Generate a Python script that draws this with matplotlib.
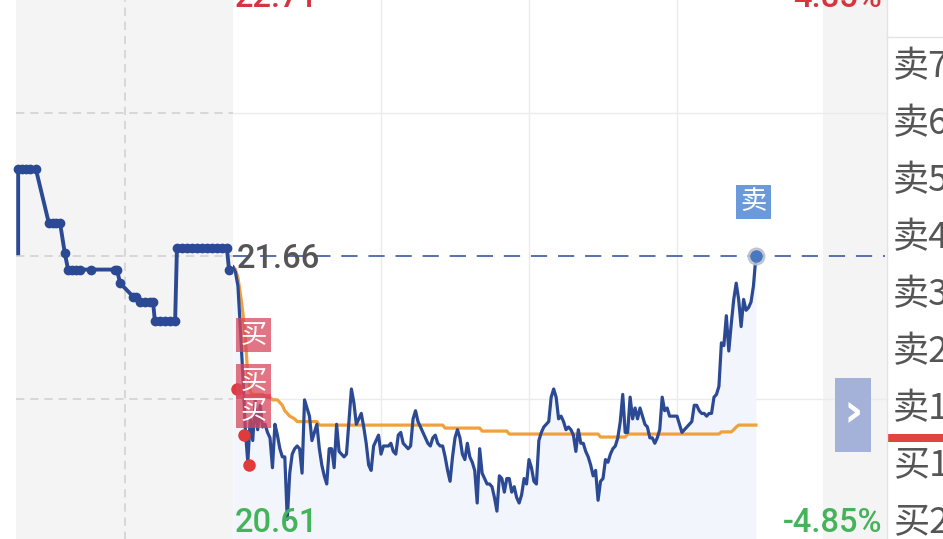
import numpy as np
import matplotlib
matplotlib.use('Agg')
import matplotlib.pyplot as plt
from matplotlib.patches import Rectangle
from matplotlib.lines import Line2D

plt.rcParams['font.family'] = ['Roboto', 'Noto Sans CJK SC', 'DejaVu Sans']

# ---------------- data ----------------
prev_close = 21.66
limit_up = 22.71
limit_down = 20.61
pct_up_label = "4.85%"
pct_down_label = "-4.85%"

# pre-market auction (seconds into the auction window)
pre_seconds = [6, 6, 17, 28, 39, 55, 91, 102, 111, 122, 135, 144, 155, 166, 177,
               207, 274, 279, 288, 324, 332, 343, 357, 370, 379, 384, 398, 412,
               426, 440, 445, 459, 473, 487, 500, 514, 528, 542, 556, 570, 583, 589]
pre_prices = [21.67, 21.98, 21.98, 21.98, 21.98, 21.98, 21.78, 21.78, 21.78, 21.78,
              21.67, 21.61, 21.61, 21.61, 21.61, 21.61, 21.61, 21.61, 21.56, 21.51,
              21.51, 21.49, 21.49, 21.49, 21.49, 21.42, 21.42, 21.42, 21.42, 21.42,
              21.69, 21.69, 21.69, 21.69, 21.69, 21.69, 21.69, 21.69, 21.69, 21.69,
              21.69, 21.61]

# intraday price, one value per minute from the open
prices = [
    21.62, 21.60, 21.55, 21.39, 21.22, 21.02, 20.90, 21.06, 20.98, 21.13,
    21.02, 21.11, 21.03, 21.04, 21.01, 20.99, 20.88, 21.04, 21.00, 20.95,
    20.92, 20.92, 20.69, 20.86, 20.93, 20.95, 20.96, 20.95, 20.86, 21.13,
    21.10, 21.07, 20.98, 21.01, 21.04, 20.95, 20.89, 20.85, 20.82, 20.95,
    20.95, 20.88, 21.04, 20.94, 20.93, 20.92, 20.93, 21.05, 21.17, 21.12,
    21.04, 21.06, 21.08, 21.03, 20.97, 20.89, 20.87, 20.96, 20.98, 21.00,
    20.93, 20.96, 20.96, 20.96, 20.97, 20.94, 20.93, 21.00, 21.01, 20.97,
    20.96, 20.95, 20.96, 21.06, 21.09, 21.05, 21.03, 21.01, 20.99, 20.97,
    20.96, 20.99, 21.00, 20.97, 20.96, 20.96, 20.92, 20.87, 20.83, 20.92,
    20.99, 21.02, 20.99, 20.93, 20.91, 20.97, 20.92, 20.90, 20.87, 20.75,
    20.95, 20.86, 20.84, 20.82, 20.82, 20.81, 20.77, 20.72, 20.85, 20.84,
    20.79, 20.84, 20.84, 20.79, 20.81, 20.77, 20.75, 20.78, 20.84, 20.82,
    20.91, 20.88, 20.83, 20.82, 20.98, 21.01, 21.03, 21.04, 21.05, 21.14,
    21.17, 21.14, 21.06, 21.07, 21.05, 21.02, 21.03, 21.02, 21.00, 20.94,
    21.02, 20.97, 20.97, 20.94, 20.92, 20.89, 20.85, 20.87, 20.76, 20.83,
    20.84, 20.91, 20.90, 20.93, 20.95, 20.96, 20.99, 21.05, 21.15, 21.01,
    21.01, 21.14, 21.06, 21.10, 21.06, 21.10, 21.07, 21.04, 21.03, 20.99,
    20.99, 20.97, 20.99, 21.02, 21.14, 21.09, 21.10, 21.07, 21.07, 21.07,
    21.07, 21.04, 21.01, 21.02, 21.03, 21.04, 21.05, 21.11, 21.11, 21.09,
    21.08, 21.08, 21.07, 21.08, 21.08, 21.14, 21.15, 21.18, 21.34, 21.33,
    21.44, 21.31, 21.41, 21.50, 21.56, 21.50, 21.40, 21.50, 21.46, 21.47,
    21.49, 21.55, 21.66,
]
minutes = np.arange(len(prices))

# average-price line (minute, price)
avg_minutes = [0, 1, 2, 3, 4, 5, 6, 7, 8, 12, 13, 15, 16, 18, 19, 20, 21, 22, 23, 25,
               26, 34, 35, 85, 86, 100, 101, 111, 112, 148, 149, 159, 160, 197, 198,
               202, 203, 204, 205, 212]
avg_prices = [21.62, 21.61, 21.58, 21.52, 21.45, 21.36, 21.22, 21.16, 21.15, 21.15,
              21.14, 21.14, 21.13, 21.13, 21.12, 21.11, 21.09, 21.08, 21.07, 21.06,
              21.05, 21.05, 21.037, 21.037, 21.026, 21.026, 21.015, 21.015, 21.004,
              21.004, 20.993, 20.993, 21.004, 21.004, 21.012, 21.012, 21.02, 21.03,
              21.037, 21.037]

buy_minutes = [1.6, 4.5, 6.5]
buy_prices = [21.17, 21.00, 20.89]
buy_label_minute = 8.3
sell_minute = 212
sell_price = 21.66
label_offset = 0.199

book_labels = ["卖7", "卖6", "卖5", "卖4", "卖3", "卖2", "卖1", "买1", "买2"]

# ---------------- styling ----------------
W, H = 943, 539
BLUE = '#2c4a94'
ORANGE = '#f0a03c'
RED = '#d8343f'
GREEN = '#45b35a'
GRAY_BG = '#f4f4f4'

def fx(x):
    return x / W

def fy(y):
    return 1 - y / H

fig = plt.figure(figsize=(W / 100, H / 100), dpi=100)
fig.patch.set_facecolor('white')

y_top_px, y_bot_px = -29, 541
ax_bottom = fy(y_bot_px)
ax_h = (y_bot_px - y_top_px) / H
quarter = (limit_up - prev_close) / 2
grid_levels = [prev_close + quarter, prev_close, prev_close - quarter]

# right gray strip
fig.add_artist(Rectangle((fx(823), 0), fx(887) - fx(823), 1, transform=fig.transFigure,
                         facecolor=GRAY_BG, edgecolor='none', zorder=-2))

# ---------- pre-market panel ----------
axp = fig.add_axes([fx(16), ax_bottom, fx(233) - fx(16), ax_h])
axp.set_facecolor(GRAY_BG)
axp.set_xlim(0, 600)
axp.set_ylim(limit_down, limit_up)
for s in axp.spines.values():
    s.set_visible(False)
axp.set_xticks([]); axp.set_yticks([])
for lv in grid_levels:
    axp.axhline(lv, color='#d2d2d2', lw=1.2, dashes=(5, 3.5), zorder=0)
axp.axvline(300, color='#d2d2d2', lw=1.2, dashes=(5, 3.5), zorder=0)
axp.plot(pre_seconds, pre_prices, color=BLUE, lw=2.8, marker='o', ms=6,
         markevery=list(range(1, len(pre_seconds))), zorder=3, clip_on=False,
         solid_joinstyle='round')

# ---------- main panel ----------
ax = fig.add_axes([fx(233), ax_bottom, fx(825) - fx(233), ax_h])
ax.set_facecolor('none')
ax.set_xlim(0, 240)
ax.set_ylim(limit_down, limit_up)
ax.axis('off')
ext = (887 - 233) / 592
for lv in [grid_levels[0], grid_levels[2]]:
    ax.axhline(lv, xmin=0, xmax=ext, color='#ebebeb', lw=1, clip_on=False, zorder=0)
for t in [60, 120, 180]:
    ax.axvline(t, color='#ebebeb', lw=1, zorder=0)

ax.fill_between(minutes, prices, limit_down, color='#f3f5fc', lw=0, zorder=1)
ax.axhline(sell_price, xmin=0, xmax=(885 - 233) / 592, color='#4866a8', lw=1.3,
           dashes=(9, 6), clip_on=False, zorder=2)
ax.plot(avg_minutes, avg_prices, color=ORANGE, lw=2.3, zorder=3)
ax.plot(minutes, prices, color=BLUE, lw=2.3, zorder=4, solid_joinstyle='round')

# buy markers
for bt, bp in zip(buy_minutes, buy_prices):
    ax.plot(bt, bp, 'o', color='#e03a3a', ms=8, zorder=6, clip_on=False)
    ax.text(buy_label_minute, bp + label_offset, "买", color='white', fontsize=19,
            ha='center', va='center', family=['Noto Sans CJK SC'], zorder=7,
            bbox=dict(boxstyle='square,pad=0.15', fc='#d8475c', ec='none', alpha=0.75))

# sell marker
ax.plot(sell_minute, sell_price, 'o', color='#b9c0cc', ms=12, alpha=0.85, zorder=6)
ax.plot(sell_minute, sell_price, 'o', color='#4a78c0', ms=8, zorder=7)
ax.text(sell_minute - 1, sell_price + label_offset, "卖", color='white', fontsize=19,
        ha='center', va='center', family=['Noto Sans CJK SC'], zorder=7,
        bbox=dict(boxstyle='square,pad=0.15', fc='#6a9ad9', ec='none'))

# ---------- axis value labels ----------
num_font = dict(fontsize=23.5, family=['Roboto', 'DejaVu Sans'], fontweight='medium')
fig.text(fx(235), fy(7), f"{limit_up:.2f}", color=RED, ha='left', va='baseline', **num_font)
fig.text(fx(882), fy(7), pct_up_label, color=RED, ha='right', va='baseline', **num_font)
fig.text(fx(235), fy(532), f"{limit_down:.2f}", color=GREEN, ha='left', va='baseline', **num_font)
fig.text(fx(882), fy(532), pct_down_label, color=GREEN, ha='right', va='baseline', **num_font)
fig.text(fx(237), fy(268), f"{prev_close:.2f}", color='#555555', ha='left', va='baseline',
         zorder=5, **num_font)

# ---------- collapse button ----------
fig.add_artist(Rectangle((fx(835), fy(452)), fx(871) - fx(835), fy(378) - fy(452),
                         transform=fig.transFigure, facecolor='#a4b2d9', edgecolor='none',
                         zorder=5))
fig.text(fx(853), fy(413), "›", color='white', fontsize=34, fontweight='bold',
         ha='center', va='center', family=['DejaVu Sans'], zorder=6)

# ---------- order book panel ----------
fig.add_artist(Line2D([fx(887), fx(887)], [0, 1], transform=fig.transFigure,
                      color='#e4e4e4', lw=1))
fig.add_artist(Line2D([fx(887), 1], [fy(37), fy(37)], transform=fig.transFigure,
                      color='#e4e4e4', lw=1))
for i, lab in enumerate(book_labels):
    fig.text(fx(893), fy(67.5 + i * 56.9), lab, color='#555555', fontsize=26,
             ha='left', va='center', family=['Noto Sans CJK SC', 'DejaVu Sans'])
fig.add_artist(Rectangle((fx(888), fy(442)), 1 - fx(888), fy(434) - fy(442),
                         transform=fig.transFigure, facecolor='#e0463c', edgecolor='none'))

fig.savefig('out.png', dpi=100)
